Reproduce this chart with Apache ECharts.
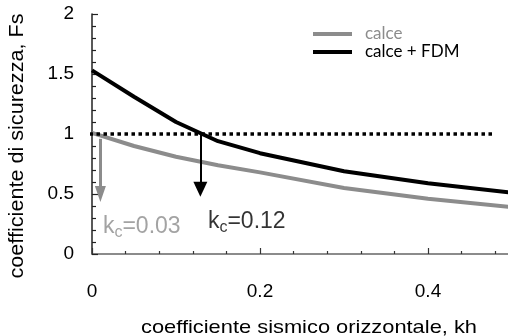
<!DOCTYPE html>
<html>
<head>
<meta charset="utf-8">
<script src="https://cdn.jsdelivr.net/npm/echarts@6/dist/echarts.min.js"></script>
<style>
html,body{margin:0;padding:0;background:#fff;}
#c{width:508px;height:336px;}
</style>
</head>
<body>
<div id="c"></div>
<script>
// Data
const kh = [0, 0.05, 0.1, 0.15, 0.2, 0.3, 0.4, 0.5];
const fsCalce = [1.01, 0.90, 0.81, 0.74, 0.68, 0.55, 0.46, 0.39];
const fsCalceFdm = [1.53, 1.31, 1.10, 0.94, 0.84, 0.69, 0.59, 0.51];
const seriesNames = ['calce', 'calce + FDM'];
const xTicks = [0, 0.2, 0.4];
const yTicks = [0, 0.5, 1, 1.5, 2];
const thresholdFs = 1;
const thresholdRange = [-0.003, 0.478];
// critical-coefficient arrows: x, start Fs, end Fs
const arrowX = [0.01, 0.129];
const arrowFrom = [0.96, 1.0];
const arrowTo = [0.50, 0.54];
const kcLabels = ['0.03', '0.12'];
const kcLabelPos = [[0.013, 0.225], [0.138, 0.267]];

const GRAY = '#8c8c8c';
const chart = echarts.init(document.getElementById('c'));

function kcRich(color) {
  return {
    k: {fontSize: 23, color: color, fontFamily: 'Liberation Sans'},
    s: {fontSize: 16, color: color, fontFamily: 'Liberation Sans', padding: [12, 0, 0, 0]},
    n: {fontSize: 23, color: color, fontFamily: 'Liberation Sans'}
  };
}

chart.setOption({
  animation: false,
  backgroundColor: '#fff',
  grid: {left: 92, top: 14, width: 504, height: 240, containLabel: false, outerBoundsMode: 'none'},
  legend: {
    orient: 'vertical',
    left: 308, top: 20,
    itemWidth: 39, itemHeight: 4, itemGap: 0,
    icon: 'rect',
    data: [
      {name: seriesNames[0], textStyle: {color: GRAY}},
      {name: seriesNames[1], textStyle: {color: '#000'}}
    ],
    textStyle: {fontFamily: 'Lato', fontSize: 17, lineHeight: 18, padding: [0, 0, 0, 8]}
  },
  xAxis: {
    type: 'value', min: 0, max: 0.6, interval: 0.2,
    axisLine: {lineStyle: {color: '#666', width: 1.5}},
    axisTick: {inside: true, length: 6, lineStyle: {color: '#333', width: 1.2}},
    minorTick: {show: true, splitNumber: 5, length: 3, lineStyle: {color: '#333', width: 1.2}},
    splitLine: {show: false},
    axisLabel: {
      fontSize: 19, color: '#000', fontFamily: 'Liberation Sans', margin: 28,
      showMaxLabel: false,
      formatter: v => xTicks.indexOf(Math.round(v * 10) / 10) >= 0 ? String(Math.round(v * 10) / 10) : ''
    }
  },
  yAxis: {
    type: 'value', min: 0, max: 2, interval: 0.5,
    axisLine: {lineStyle: {color: '#222', width: 1.5}},
    axisTick: {inside: true, length: 6, lineStyle: {color: '#222', width: 1.2}},
    minorTick: {show: true, splitNumber: 5, length: 4, lineStyle: {color: '#222', width: 1.2}},
    splitLine: {show: false},
    axisLabel: {
      fontSize: 19, color: '#000', fontFamily: 'Liberation Sans', margin: 18,
      formatter: v => yTicks.indexOf(v) >= 0 ? String(v) : ''
    }
  },
  series: [
    {
      name: seriesNames[0], type: 'line', symbol: 'none',
      data: kh.map((x, i) => [x, fsCalce[i]]),
      lineStyle: {color: GRAY, width: 4}, itemStyle: {color: GRAY}, z: 3
    },
    {
      name: seriesNames[1], type: 'line', symbol: 'none',
      data: kh.map((x, i) => [x, fsCalceFdm[i]]),
      lineStyle: {color: '#000', width: 4}, itemStyle: {color: '#000'}, z: 4
    },
    {
      name: 'soglia', type: 'line', symbol: 'none', silent: true,
      data: thresholdRange.map(x => [x, thresholdFs]),
      lineStyle: {color: '#000', width: 3.5, type: [3.5, 3.5], cap: 'butt'}, z: 5
    },
    {
      name: 'frecce', type: 'line', symbol: 'none', data: [], silent: true,
      markLine: {
        silent: true, animation: false,
        label: {show: false},
        data: arrowX.map((x, i) => [
          {coord: [x, arrowFrom[i]], symbol: 'none',
           lineStyle: {color: i === 0 ? GRAY : '#000', width: i === 0 ? 3 : 2, type: 'solid'}},
          {coord: [x, arrowTo[i]], symbol: 'triangle', symbolSize: i === 0 ? [11, 16] : [14, 15],
           itemStyle: {color: i === 0 ? GRAY : '#000'}}
        ])
      }
    },
    {
      name: 'kc', type: 'scatter', symbolSize: 0, silent: true,
      data: kcLabelPos.map((p, i) => ({
        value: p,
        label: {
          show: true, position: 'right', distance: 0,
          formatter: '{k|k}{s|c}{n|=' + kcLabels[i] + '}',
          rich: kcRich(i === 0 ? GRAY : '#000')
        }
      }))
    }
  ],
  graphic: [
    {
      type: 'text', x: 309, y: 328, scaleX: 1.15,
      style: {text: 'coefficiente sismico orizzontale, kh', fontSize: 19, fontFamily: 'Liberation Sans',
              fill: '#000', align: 'center', verticalAlign: 'middle'}
    },
    {
      type: 'text', x: 17, y: 146, rotation: Math.PI / 2, scaleX: 1.08,
      style: {text: 'coefficiente di sicurezza, Fs', fontSize: 20, fontFamily: 'Liberation Sans',
              fill: '#000', align: 'center', verticalAlign: 'middle'}
    }
  ]
});
</script>
</body>
</html>
